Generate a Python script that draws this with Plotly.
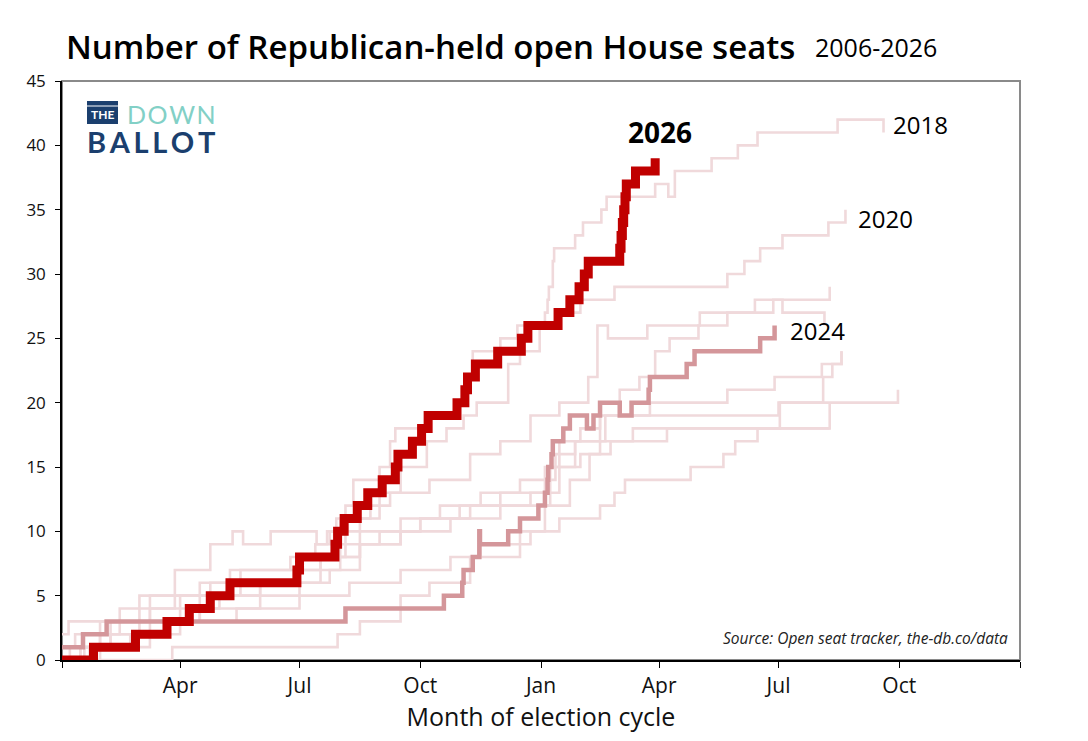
import plotly.graph_objects as go

# ---- data: day of the two-year cycle (0 = Jan 1 of odd year) and count of open seats ----
cycles_light = ["2006", "2008", "2010", "2012", "2014", "2016", "2018", "2020", "2022"]

days_2018 = [0, 17, 29, 44, 67, 86, 113, 136, 174, 193, 204, 212, 216, 222, 242, 250, 254, 277, 299, 309,
             313, 334, 347, 368, 370, 371, 374, 375, 391, 397, 411, 415, 452, 462, 467, 495, 515, 530, 591, 626]
vals_2018 = [0, 1, 2, 3, 4, 5, 6, 7, 8, 9, 10, 11, 12, 14, 15, 17, 18, 19, 20, 22,
             24, 25, 26, 27, 28, 29, 31, 32, 33, 34, 35, 36, 37, 36, 38, 39, 40, 41, 42, 41]

days_2020 = [0, 14, 37, 59, 90, 120, 151, 178, 197, 216, 227, 242, 258, 278, 293, 306, 316, 340, 349, 364,
             379, 395, 421, 507, 520, 532, 549, 584, 597]
vals_2020 = [0, 1, 2, 3, 4, 5, 6, 7, 8, 10, 11, 13, 15, 17, 18, 19, 20, 23, 24, 26,
             27, 28, 29, 30, 31, 32, 33, 34, 35]

days_2008 = [0, 10, 37, 59, 86, 113, 130, 138, 159, 194, 202, 209, 235, 250, 280, 311, 334, 357, 379, 401,
             408, 416, 446, 486, 528, 585]
vals_2008 = [1, 2, 3, 5, 7, 9, 10, 9, 10, 9, 10, 11, 12, 13, 14, 16, 17, 19, 20, 22,
             26, 25, 26, 27, 28, 29]

days_2016 = [0, 14, 29, 67, 105, 128, 181, 227, 273, 311, 372, 391, 410, 425, 440, 452, 463, 485, 507, 542,
             549, 581]
vals_2016 = [0, 1, 3, 5, 6, 7, 8, 10, 11, 12, 15, 17, 20, 21, 22, 24, 25, 26, 27, 28,
             27, 26]

days_2012 = [0, 5, 44, 90, 136, 181, 212, 242, 273, 303, 334, 368, 379, 395, 410, 448, 507, 543, 579, 594]
vals_2012 = [2, 3, 4, 5, 6, 7, 9, 10, 11, 12, 13, 15, 17, 18, 19, 20, 21, 22, 23, 24]

days_2022 = [0, 21, 52, 82, 105, 151, 197, 227, 258, 288, 319, 349, 376, 391, 414, 546, 580, 587, 594]
vals_2022 = [0, 1, 2, 3, 5, 6, 8, 9, 11, 12, 13, 14, 16, 17, 19, 20, 22, 23, 24]

days_2006 = [0, 84, 210, 227, 258, 280, 311, 349, 368, 387, 402, 418, 435, 547, 637]
vals_2006 = [0, 1, 2, 3, 5, 6, 8, 10, 12, 14, 16, 17, 18, 20, 21]

days_2014 = [0, 6, 37, 67, 105, 151, 181, 204, 227, 258, 296, 334, 357, 379, 395, 410, 461, 585]
vals_2014 = [0, 1, 2, 3, 4, 5, 6, 7, 9, 10, 11, 12, 13, 15, 16, 17, 18, 20]

days_2010 = [0, 29, 67, 90, 133, 181, 219, 258, 296, 319, 357, 379, 410, 421, 429, 479, 504, 513, 530, 585]
vals_2010 = [0, 1, 2, 3, 4, 5, 6, 7, 8, 9, 10, 11, 12, 13, 14, 15, 16, 17, 18, 18]

days_2024 = [0, 16, 34, 216, 291, 305, 306, 313, 318, 318.5, 340, 349, 363, 368, 370, 370.5, 373, 374, 382, 387,
             400, 405, 410, 425, 434, 447, 448, 476, 482, 532, 543]
vals_2024 = [1, 2, 3, 4, 5, 6, 7, 8, 10, 9, 10, 11, 12, 13, 14, 15, 16, 17, 18, 19,
             18, 19, 20, 19, 20, 21, 22, 23, 24, 25, 26]

days_2026 = [0, 24, 56, 80, 97, 113, 128, 179, 181, 208, 210, 215, 225, 233, 244, 254, 256, 267, 274, 279,
             301, 307, 309, 315, 332, 350, 355, 378, 387, 394, 398, 401, 425, 426, 427, 428, 429, 430, 437, 452]
vals_2026 = [0, 1, 2, 3, 4, 5, 6, 7, 8, 9, 10, 11, 12, 13, 14, 15, 16, 17, 18, 19,
             20, 21, 22, 23, 24, 25, 26, 27, 28, 29, 30, 31, 32, 33, 34, 35, 36, 37, 38, 39]

light_series = {
    "2006": (days_2006, vals_2006), "2008": (days_2008, vals_2008), "2010": (days_2010, vals_2010),
    "2012": (days_2012, vals_2012), "2014": (days_2014, vals_2014), "2016": (days_2016, vals_2016),
    "2018": (days_2018, vals_2018), "2020": (days_2020, vals_2020), "2022": (days_2022, vals_2022),
}

tick_days = [0, 90, 181, 273, 365, 455, 546, 638, 730]
tick_text = ["", "Apr", "Jul", "Oct", "Jan", "Apr", "Jul", "Oct", ""]
y_ticks = [0, 5, 10, 15, 20, 25, 30, 35, 40, 45]

LIGHT = "#f0d9db"
MID = "#d4969a"
BOLD = "#c00000"
NAVY = "#1b3f6e"
TEAL = "#82d0c6"
FONT = "Open Sans"

fig = go.Figure()
for name in cycles_light:
    d, v = light_series[name]
    fig.add_trace(go.Scatter(x=d, y=v, mode="lines", name=name,
                             line=dict(color=LIGHT, width=2.6, shape="hv"), hoverinfo="skip"))
fig.add_trace(go.Scatter(x=days_2024, y=vals_2024, mode="lines", name="2024",
                         line=dict(color=MID, width=4.5, shape="hv")))
fig.add_trace(go.Scatter(x=days_2026, y=vals_2026, mode="lines", name="2026",
                         line=dict(color=BOLD, width=9, shape="hv")))

fig.update_layout(
    width=1072, height=725,
    margin=dict(l=54, r=60, t=73, b=73),
    paper_bgcolor="white", plot_bgcolor="white",
    showlegend=False,
    font=dict(family=FONT, color="#111111"),
    xaxis=dict(range=[0, 730], tickvals=tick_days, ticktext=tick_text, showgrid=False, zeroline=False,
               showline=True, linecolor="black", linewidth=1.5, ticks="outside", ticklen=6,
               tickcolor="black", tickwidth=1.2, tickfont=dict(size=21, color="#111111"),
               title=dict(text="Month of election cycle", font=dict(size=25, color="#111111"), standoff=6)),
    yaxis=dict(range=[0, 45], tickvals=y_ticks, showgrid=False, zeroline=False,
               showline=True, linecolor="black", linewidth=1.5, ticks="outside", ticklen=5,
               tickcolor="black", tickwidth=1.2, tickfont=dict(size=17, color="#111111"),
               ticklabelstandoff=6),
)

fig.add_shape(type="rect", xref="paper", yref="paper", x0=0, x1=1, y0=0, y1=1,
              line=dict(color="#8a8a8a", width=2), layer="below")

# Title
fig.add_annotation(text="Number of Republican-held open House seats", xref="paper", yref="paper",
                   x=(64 - 62) / 958, y=(660 - 47) / 579, xanchor="left", yanchor="middle", showarrow=False,
                   font=dict(family=FONT, size=33, color="black", weight=600))
fig.add_annotation(text="2006-2026", xref="paper", yref="paper",
                   x=(813 - 62) / 958, y=(660 - 47) / 579, xanchor="left", yanchor="middle", showarrow=False,
                   font=dict(family=FONT, size=25, color="black"))

# Series labels
fig.add_annotation(text="<b>2026</b>", x=456, y=41.0, xanchor="center", yanchor="middle", showarrow=False,
                   font=dict(family=FONT, size=28, color="black"))
fig.add_annotation(text="2018", x=632, y=41.6, xanchor="left", yanchor="middle", showarrow=False,
                   font=dict(family=FONT, size=24, color="black"))
fig.add_annotation(text="2020", x=605, y=34.3, xanchor="left", yanchor="middle", showarrow=False,
                   font=dict(family=FONT, size=24, color="black"))
fig.add_annotation(text="2024", x=553, y=25.6, xanchor="left", yanchor="middle", showarrow=False,
                   font=dict(family=FONT, size=24, color="black"))

# Source
fig.add_annotation(text="<i>Source: Open seat tracker, the-db.co/data</i>", xref="paper", yref="paper",
                   x=(1010 - 62) / 958, y=(660 - 638) / 579, xanchor="right", yanchor="middle", showarrow=False,
                   font=dict(family=FONT, size=15.5, color="#222222"))

# Logo
fig.add_shape(type="rect", xref="paper", yref="paper",
              x0=(87 - 62) / 958, x1=(118 - 62) / 958, y0=(660 - 124) / 579, y1=(660 - 101) / 579,
              fillcolor=NAVY, line=dict(width=0), layer="above")
fig.add_shape(type="line", xref="paper", yref="paper",
              x0=(87 - 62) / 958, x1=(118 - 62) / 958, y0=(660 - 106) / 579, y1=(660 - 106) / 579,
              line=dict(color="white", width=1), layer="above")
fig.add_annotation(text="<b>THE</b>", xref="paper", yref="paper", x=(102.5 - 62) / 958, y=(660 - 115) / 579,
                   xanchor="center", yanchor="middle", showarrow=False,
                   font=dict(family="Lato", size=12, color="white"))
fig.add_annotation(text="D\u200aO\u200aW\u200aN", xref="paper", yref="paper", x=(125 - 62) / 958, y=(660 - 114) / 579,
                   xanchor="left", yanchor="middle", showarrow=False,
                   font=dict(family="Lato", size=25, color=TEAL))
fig.add_annotation(text="<b>B\u2009A\u2009L\u2009L\u2009O\u2009T</b>", xref="paper", yref="paper",
                   x=(85 - 62) / 958, y=(660 - 141) / 579,
                   xanchor="left", yanchor="middle", showarrow=False,
                   font=dict(family="Lato", size=29, color=NAVY))

fig.write_html("out.html")
